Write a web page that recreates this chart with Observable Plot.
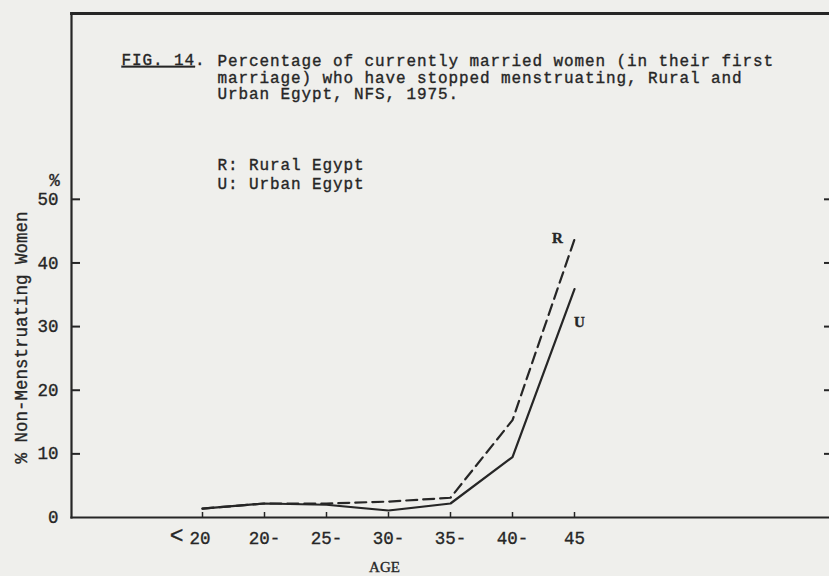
<!DOCTYPE html>
<html>
<head>
<meta charset="utf-8">
<script src="https://cdn.jsdelivr.net/npm/d3@7"></script>
<script src="https://cdn.jsdelivr.net/npm/@observablehq/plot@0.6"></script>
<style>
  html, body { margin: 0; padding: 0; background: #efefec; }
  #chart svg { display: block; }
  /* typewriter ink is a little heavier than the plain face */
  #chart svg text { stroke: #262626; stroke-width: 0.35px; }
</style>
</head>
<body>
<div id="chart"></div>
<script>
// Age groups and percentage of women no longer menstruating
const ages = ["<20", "20-", "25-", "30-", "35-", "40-", "45"];
const rural = [1.4, 2.2, 2.2, 2.5, 3.1, 15.3, 43.7];
const urban = [1.4, 2.2, 2.0, 1.1, 2.2, 9.5, 35.9];

// Axis ticks
const yLabelTicks = [0, 10, 20, 30, 40, 50];
const yTickMarks = [10, 20, 30, 40, 50];

// Texts
const titleLead = "FIG. 14.";
const titleLines = [
  "Percentage of currently married women (in their first",
  "marriage) who have stopped menstruating, Rural and",
  "Urban Egypt, NFS, 1975."
];
const legendLines = ["R: Rural Egypt", "U: Urban Egypt"];
const percentSign = "%";
const yLabel = "% Non-Menstruating Women";
const xLabel = "AGE";

const ruralRows = ages.map((age, i) => ({age, value: rural[i]}));
const urbanRows = ages.map((age, i) => ({age, value: urban[i]}));

const ink = "#262626";
const mono = "Liberation Mono";

const chart = Plot.plot({
  width: 829,
  height: 576,
  marginLeft: 71,
  marginRight: 0,
  marginTop: 13,
  marginBottom: 59,
  style: {fontFamily: mono, fontSize: "17.5px", color: ink, background: "transparent"},
  x: {type: "point", domain: ages, padding: 3.02, align: 0.34, label: null},
  y: {domain: [0, 79.2], label: null},
  marks: [
    // open frame: top, left and bottom sides
    Plot.frame({anchor: "top", stroke: ink, strokeWidth: 2.8}),
    Plot.frame({anchor: "left", stroke: ink, strokeWidth: 2.2}),
    Plot.frame({anchor: "bottom", stroke: ink, strokeWidth: 2.2}),

    // y axis: labels, inward ticks on the left and on the right edge
    Plot.axisY(yLabelTicks, {tickSize: 0, tickPadding: 13, label: null}),
    Plot.axisY(yTickMarks, {tickSize: -9, tickFormat: () => "", strokeWidth: 2, label: null}),
    Plot.axisY(yTickMarks, {anchor: "right", tickSize: -6, tickFormat: () => "", strokeWidth: 2, label: null}),

    // x axis: labels and small upward ticks
    Plot.axisX({tickSize: 0, tickPadding: 14, label: null}),
    Plot.axisX({tickSize: -5, tickFormat: () => "", strokeWidth: 1.5, label: null}),

    // series
    Plot.line(ruralRows, {x: "age", y: "value", stroke: ink, strokeWidth: 2.2, strokeDasharray: "11,6"}),
    Plot.line(urbanRows, {x: "age", y: "value", stroke: ink, strokeWidth: 2.2}),

    // series labels at the last age group
    Plot.text(ruralRows.slice(-1), {x: "age", y: "value", text: () => "R", dx: -17, dy: -1,
      fontFamily: "Liberation Serif", fontWeight: "bold", fontSize: 15, fill: ink}),
    Plot.text(urbanRows.slice(-1), {x: "age", y: "value", text: () => "U", dx: 5, dy: 33,
      fontFamily: "Liberation Serif", fontWeight: "bold", fontSize: 15, fill: ink}),

    // title block
    Plot.text([titleLead], {text: d => d, frameAnchor: "top-left", dx: 50, dy: 40,
      textAnchor: "start", lineAnchor: "top", fontSize: 16, fill: ink}),
    Plot.text([titleLines.join("\n")], {text: d => d, frameAnchor: "top-left", dx: 146, dy: 40,
      textAnchor: "start", lineAnchor: "top", lineHeight: 1.06, fontSize: 16, fill: ink}),

    // key
    Plot.text([legendLines.join("\n")], {text: d => d, frameAnchor: "top-left", dx: 146, dy: 144,
      textAnchor: "start", lineAnchor: "top", lineHeight: 1.14, fontSize: 16, fill: ink}),

    // axis titles
    Plot.text([percentSign], {text: d => d, frameAnchor: "top-left", dx: -17, dy: 167,
      textAnchor: "middle", lineAnchor: "middle", fill: ink}),
    Plot.text([yLabel], {text: d => d, frameAnchor: "left", dx: -50, dy: 72, rotate: -90,
      textAnchor: "middle", lineAnchor: "middle", fill: ink}),
    Plot.text([xLabel], {text: d => d, frameAnchor: "bottom", dx: -66, dy: 50,
      textAnchor: "middle", lineAnchor: "middle", fontFamily: "Liberation Serif", fontSize: 15, fill: ink})
  ]
});

const svg = d3.select(chart);

// wider letter pitch for the 16px typewriter texts
svg.selectAll('g[font-size="16"] text').attr("letter-spacing", 0.9);

// underline the figure number
svg.selectAll("text").filter(function () { return this.textContent === titleLead; })
  .each(function () {
    const t = d3.select(this);
    t.text(null);
    t.append("tspan").attr("text-decoration", "underline").text("FIG. 14");
    t.append("tspan").text(".");
  });

// larger "<" in the first age label, set a little apart from the number
svg.selectAll("text").filter(function () { return this.textContent === "<20"; })
  .each(function () {
    const t = d3.select(this);
    t.text(null).attr("text-anchor", "end").attr("dx", 8);
    t.append("tspan").attr("font-size", 23).attr("dy", "-0.05em").text("<");
    t.append("tspan").attr("dy", "0.05em").attr("dx", 6).text("20");
  });

document.getElementById("chart").append(chart);
</script>
</body>
</html>
